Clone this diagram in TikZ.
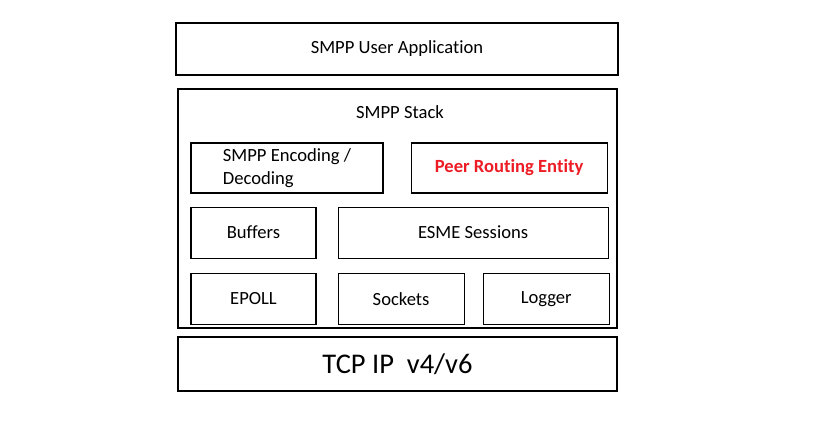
\documentclass[tikz,border=0pt]{standalone}
\usepackage{fontspec}
\setmainfont{Carlito}[Ligatures=NoCommon]
\usetikzlibrary{positioning}
\definecolor{peerred}{RGB}{237,28,36}
\tikzset{
    every node/.style={color=black, font=\fontsize{18.6}{23}\selectfont},
    every path/.style={color=black}
}

\begin{document}
\begin{tikzpicture}[
        x=1pt, y=1pt,
        line width=1.1pt,
        box/.style={rectangle, draw, inner sep=0pt},
        wide/.style={box, minimum width=#1},
        small/.style={box, minimum width=#1, minimum height=51pt}
    ]

    \useasboundingbox (0,0) rectangle (825,-433);

    % Outer layers
    \node[wide=442pt, minimum height=52pt] (app) at (397,-49) {SMPP User Application};
    \node[wide=439pt, minimum height=239pt] (stack) at (397.5,-208.5) {};
    \node (stack label) at (400,-112) {SMPP Stack};
    \node[wide=439pt, minimum height=54pt, font=\fontsize{28.5}{32}\selectfont] (tcp) at (397.5,-364) {TCP IP\ \ v4/v6};

    % Stack components
    \node[box, minimum width=192pt, minimum height=50pt, align=left] (enc) at (287,-168) {SMPP Encoding /\\Decoding};
    \node[box, minimum width=196pt, minimum height=50pt, right=27pt of enc,
          font=\fontsize{18.6}{23}\selectfont\bfseries, text=peerred] (peer) {Peer Routing Entity};
    \node[small=125pt, below=13pt of enc.south west, anchor=north west] (buffers) {Buffers};
    \node[small=270pt, right=21pt of buffers] (esme) {ESME Sessions};
    \node[small=125pt, below=14pt of buffers] (epoll) {EPOLL};
    \node[small=126pt, right=21pt of epoll] (sockets) {Sockets};
    \node[small=126pt, right=18pt of sockets] (logger) {Logger};

\end{tikzpicture}
\end{document}
